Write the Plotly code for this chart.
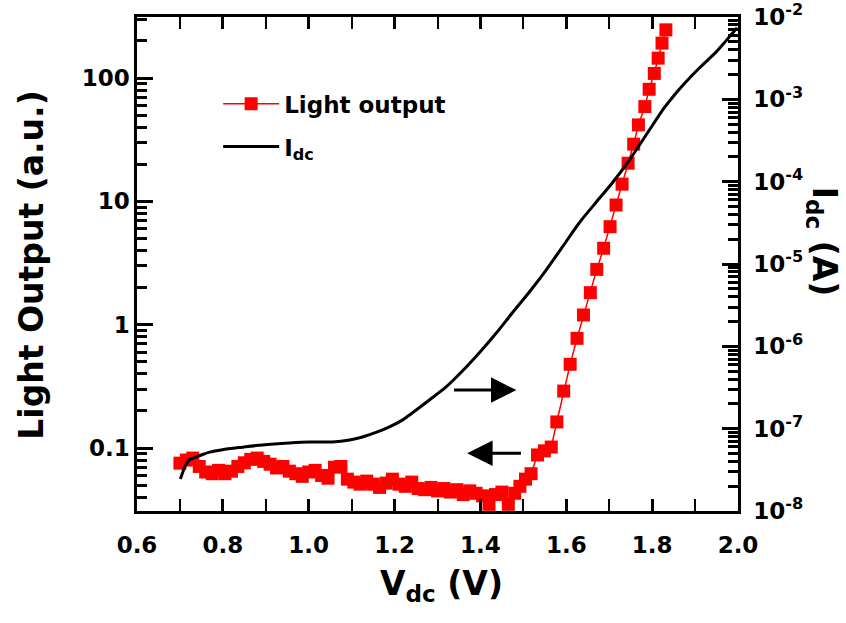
import plotly.graph_objects as go

# Light output (left axis, a.u.) versus dc bias
light_v = [0.700, 0.715, 0.730, 0.745, 0.760, 0.775, 0.790, 0.805, 0.820, 0.835,
           0.850, 0.865, 0.880, 0.895, 0.910, 0.925, 0.940, 0.955, 0.970, 0.985,
           1.000, 1.015, 1.030, 1.045, 1.060, 1.075, 1.090, 1.105, 1.120, 1.135,
           1.150, 1.165, 1.180, 1.195, 1.210, 1.225, 1.240, 1.255, 1.270, 1.285,
           1.300, 1.315, 1.330, 1.345, 1.360, 1.375, 1.390, 1.405, 1.420, 1.435,
           1.450, 1.465, 1.480, 1.492, 1.505, 1.518, 1.533, 1.549, 1.565, 1.578,
           1.594, 1.609, 1.625, 1.640, 1.656, 1.671, 1.687, 1.702, 1.716, 1.730,
           1.744, 1.757, 1.768, 1.783, 1.793, 1.805, 1.814, 1.823, 1.832]
light_au = [0.0755, 0.080, 0.083, 0.071, 0.064, 0.062, 0.066, 0.062, 0.065, 0.071,
            0.076, 0.081, 0.083, 0.078, 0.074, 0.069, 0.071, 0.065, 0.062, 0.059,
            0.064, 0.066, 0.060, 0.057, 0.070, 0.071, 0.056, 0.053, 0.051, 0.054,
            0.051, 0.048, 0.052, 0.056, 0.051, 0.049, 0.053, 0.047, 0.046, 0.048,
            0.045, 0.047, 0.044, 0.046, 0.042, 0.045, 0.043, 0.041, 0.035, 0.042,
            0.044, 0.035, 0.043, 0.049, 0.056, 0.062, 0.088, 0.095, 0.102, 0.163,
            0.290, 0.478, 0.776, 1.20, 1.82, 2.81, 4.17, 6.24, 9.35, 13.8,
            20.4, 29.1, 41.7, 58.7, 81.1, 109, 145, 192, 246]

# dc current (right axis, A) versus dc bias
idc_v = [0.701, 0.706, 0.711, 0.716, 0.722, 0.730, 0.738, 0.750, 0.769, 0.799,
         0.846, 0.892, 0.955, 1.002, 1.055, 1.095, 1.125, 1.160, 1.188, 1.218,
         1.241, 1.281, 1.320, 1.358, 1.397, 1.437, 1.474, 1.514, 1.553, 1.591,
         1.630, 1.670, 1.707, 1.747, 1.789, 1.828, 1.850, 1.870, 1.890, 1.910,
         1.930, 1.950, 1.972, 1.998]
idc_a = [2.45e-8, 2.9e-8, 3.4e-8, 3.8e-8, 4.16e-8, 4.37e-8, 4.53e-8, 4.79e-8, 5.19e-8, 5.56e-8,
         5.96e-8, 6.34e-8, 6.70e-8, 6.89e-8, 6.89e-8, 7.28e-8, 7.92e-8, 9.12e-8, 1.05e-7, 1.27e-7,
         1.55e-7, 2.23e-7, 3.21e-7, 5.01e-7, 8.30e-7, 1.45e-6, 2.54e-6, 4.57e-6, 8.45e-6, 1.61e-5,
         3.15e-5, 5.66e-5, 9.64e-5, 1.83e-4, 3.90e-4, 7.85e-4, 1.10e-3, 1.45e-3, 1.88e-3, 2.40e-3,
         3.02e-3, 3.80e-3, 5.13e-3, 7.4e-3]

# axis tick positions
light_ticks = [0.1, 1, 10, 100]
light_labels = ["0.1", "1", "10", "100"]
idc_exponents = [-8, -7, -6, -5, -4, -3, -2]

FONT = "DejaVu Sans"
BLACK = "black"
RED = "#ff0000"
LIGHT_RANGE = [-1.51, 2.495]
IDC_RANGE = [-8, -2]


def log_minor(first_exp, last_exp):
    """2..9 multiples of every decade between two exponents."""
    vals = []
    for e in range(first_exp, last_exp + 1):
        for m in range(2, 10):
            vals.append(m * 10.0 ** e)
    return vals


fig = go.Figure()
fig.add_trace(go.Scatter(
    x=light_v, y=light_au, mode="lines+markers", name="Light output",
    legendgroup="light",
    line=dict(color=RED, width=1.5),
    marker=dict(symbol="square", size=13, color=RED),
))
fig.add_trace(go.Scatter(
    x=idc_v, y=idc_a, yaxis="y2", mode="lines", name="I<sub>dc</sub>",
    legendgroup="idc",
    line=dict(color=BLACK, width=3, shape="spline", smoothing=0.8),
))

tickfont = dict(family=FONT, size=23, color=BLACK, weight="bold")
frame = dict(showline=True, linewidth=2.5, linecolor=BLACK, automargin=False,
             showgrid=False, zeroline=False, tickfont=tickfont)

fig.update_layout(
    width=846, height=623,
    margin=dict(l=137, r=108, t=17, b=112),
    paper_bgcolor="white", plot_bgcolor="white",
    showlegend=True,
    legend=dict(
        x=0.135, y=0.868, xanchor="left", yanchor="top",
        bgcolor="rgba(0,0,0,0)", itemwidth=56, tracegroupgap=10,
        font=dict(family=FONT, size=23, color=BLACK, weight="bold"),
    ),
    xaxis=dict(
        range=[0.6, 2.0], tick0=0.6, dtick=0.2, tickformat=".1f",
        mirror="allticks",
        ticks="inside", ticklen=12, tickwidth=2.5, tickcolor=BLACK,
        minor=dict(dtick=0.1, ticks="inside", ticklen=7, tickwidth=2,
                   tickcolor=BLACK, showgrid=False),
        ticklabelstandoff=12, **frame,
    ),
    yaxis=dict(
        type="log", range=LIGHT_RANGE,
        tickmode="array", tickvals=light_ticks, ticktext=light_labels,
        ticksuffix=" ",
        ticks="inside", ticklen=16, tickwidth=3, tickcolor=BLACK,
        minor=dict(tickmode="array", tickvals=log_minor(-2, 2), ticks="inside",
                   ticklen=10, tickwidth=2.5, tickcolor=BLACK, showgrid=False),
        **frame,
    ),
    yaxis2=dict(
        type="log", range=IDC_RANGE, overlaying="y", side="right",
        tickmode="array",
        tickvals=[10.0 ** e for e in idc_exponents],
        ticktext=[" 10<sup>%d</sup>" % e for e in idc_exponents],
        ticks="inside", ticklen=16, tickwidth=3, tickcolor=BLACK,
        minor=dict(tickmode="array", tickvals=log_minor(-8, -3), ticks="inside",
                   ticklen=10, tickwidth=2.5, tickcolor=BLACK, showgrid=False),
        **frame,
    ),
)

title_font = dict(family=FONT, size=33, color=BLACK, weight="bold")
fig.add_annotation(text="Light Output (a.u.)", xref="paper", yref="paper",
                   x=-0.176, y=0.497, textangle=-90, showarrow=False,
                   xanchor="center", yanchor="middle", font=title_font)
fig.add_annotation(text="V<sub>dc</sub> (V)", xref="paper", yref="paper",
                   x=0.506, y=-0.15, showarrow=False,
                   xanchor="center", yanchor="middle", font=title_font)
fig.add_annotation(text="I<sub>dc</sub> (A)", xref="paper", yref="paper",
                   x=1.14, y=0.545, textangle=90, showarrow=False,
                   xanchor="center", yanchor="middle", font=title_font)

# direction arrows: current curve -> right axis, light curve -> left axis
fig.add_annotation(x=1.484, y=-0.530, ax=1.335, ay=-0.530,
                   xref="x", yref="y", axref="x", ayref="y", text="",
                   showarrow=True, arrowhead=2, arrowsize=1.7, arrowwidth=3,
                   arrowcolor=BLACK)
fig.add_annotation(x=1.369, y=-1.041, ax=1.498, ay=-1.041,
                   xref="x", yref="y", axref="x", ayref="y", text="",
                   showarrow=True, arrowhead=2, arrowsize=1.7, arrowwidth=3,
                   arrowcolor=BLACK)

fig.write_html("out.html")
